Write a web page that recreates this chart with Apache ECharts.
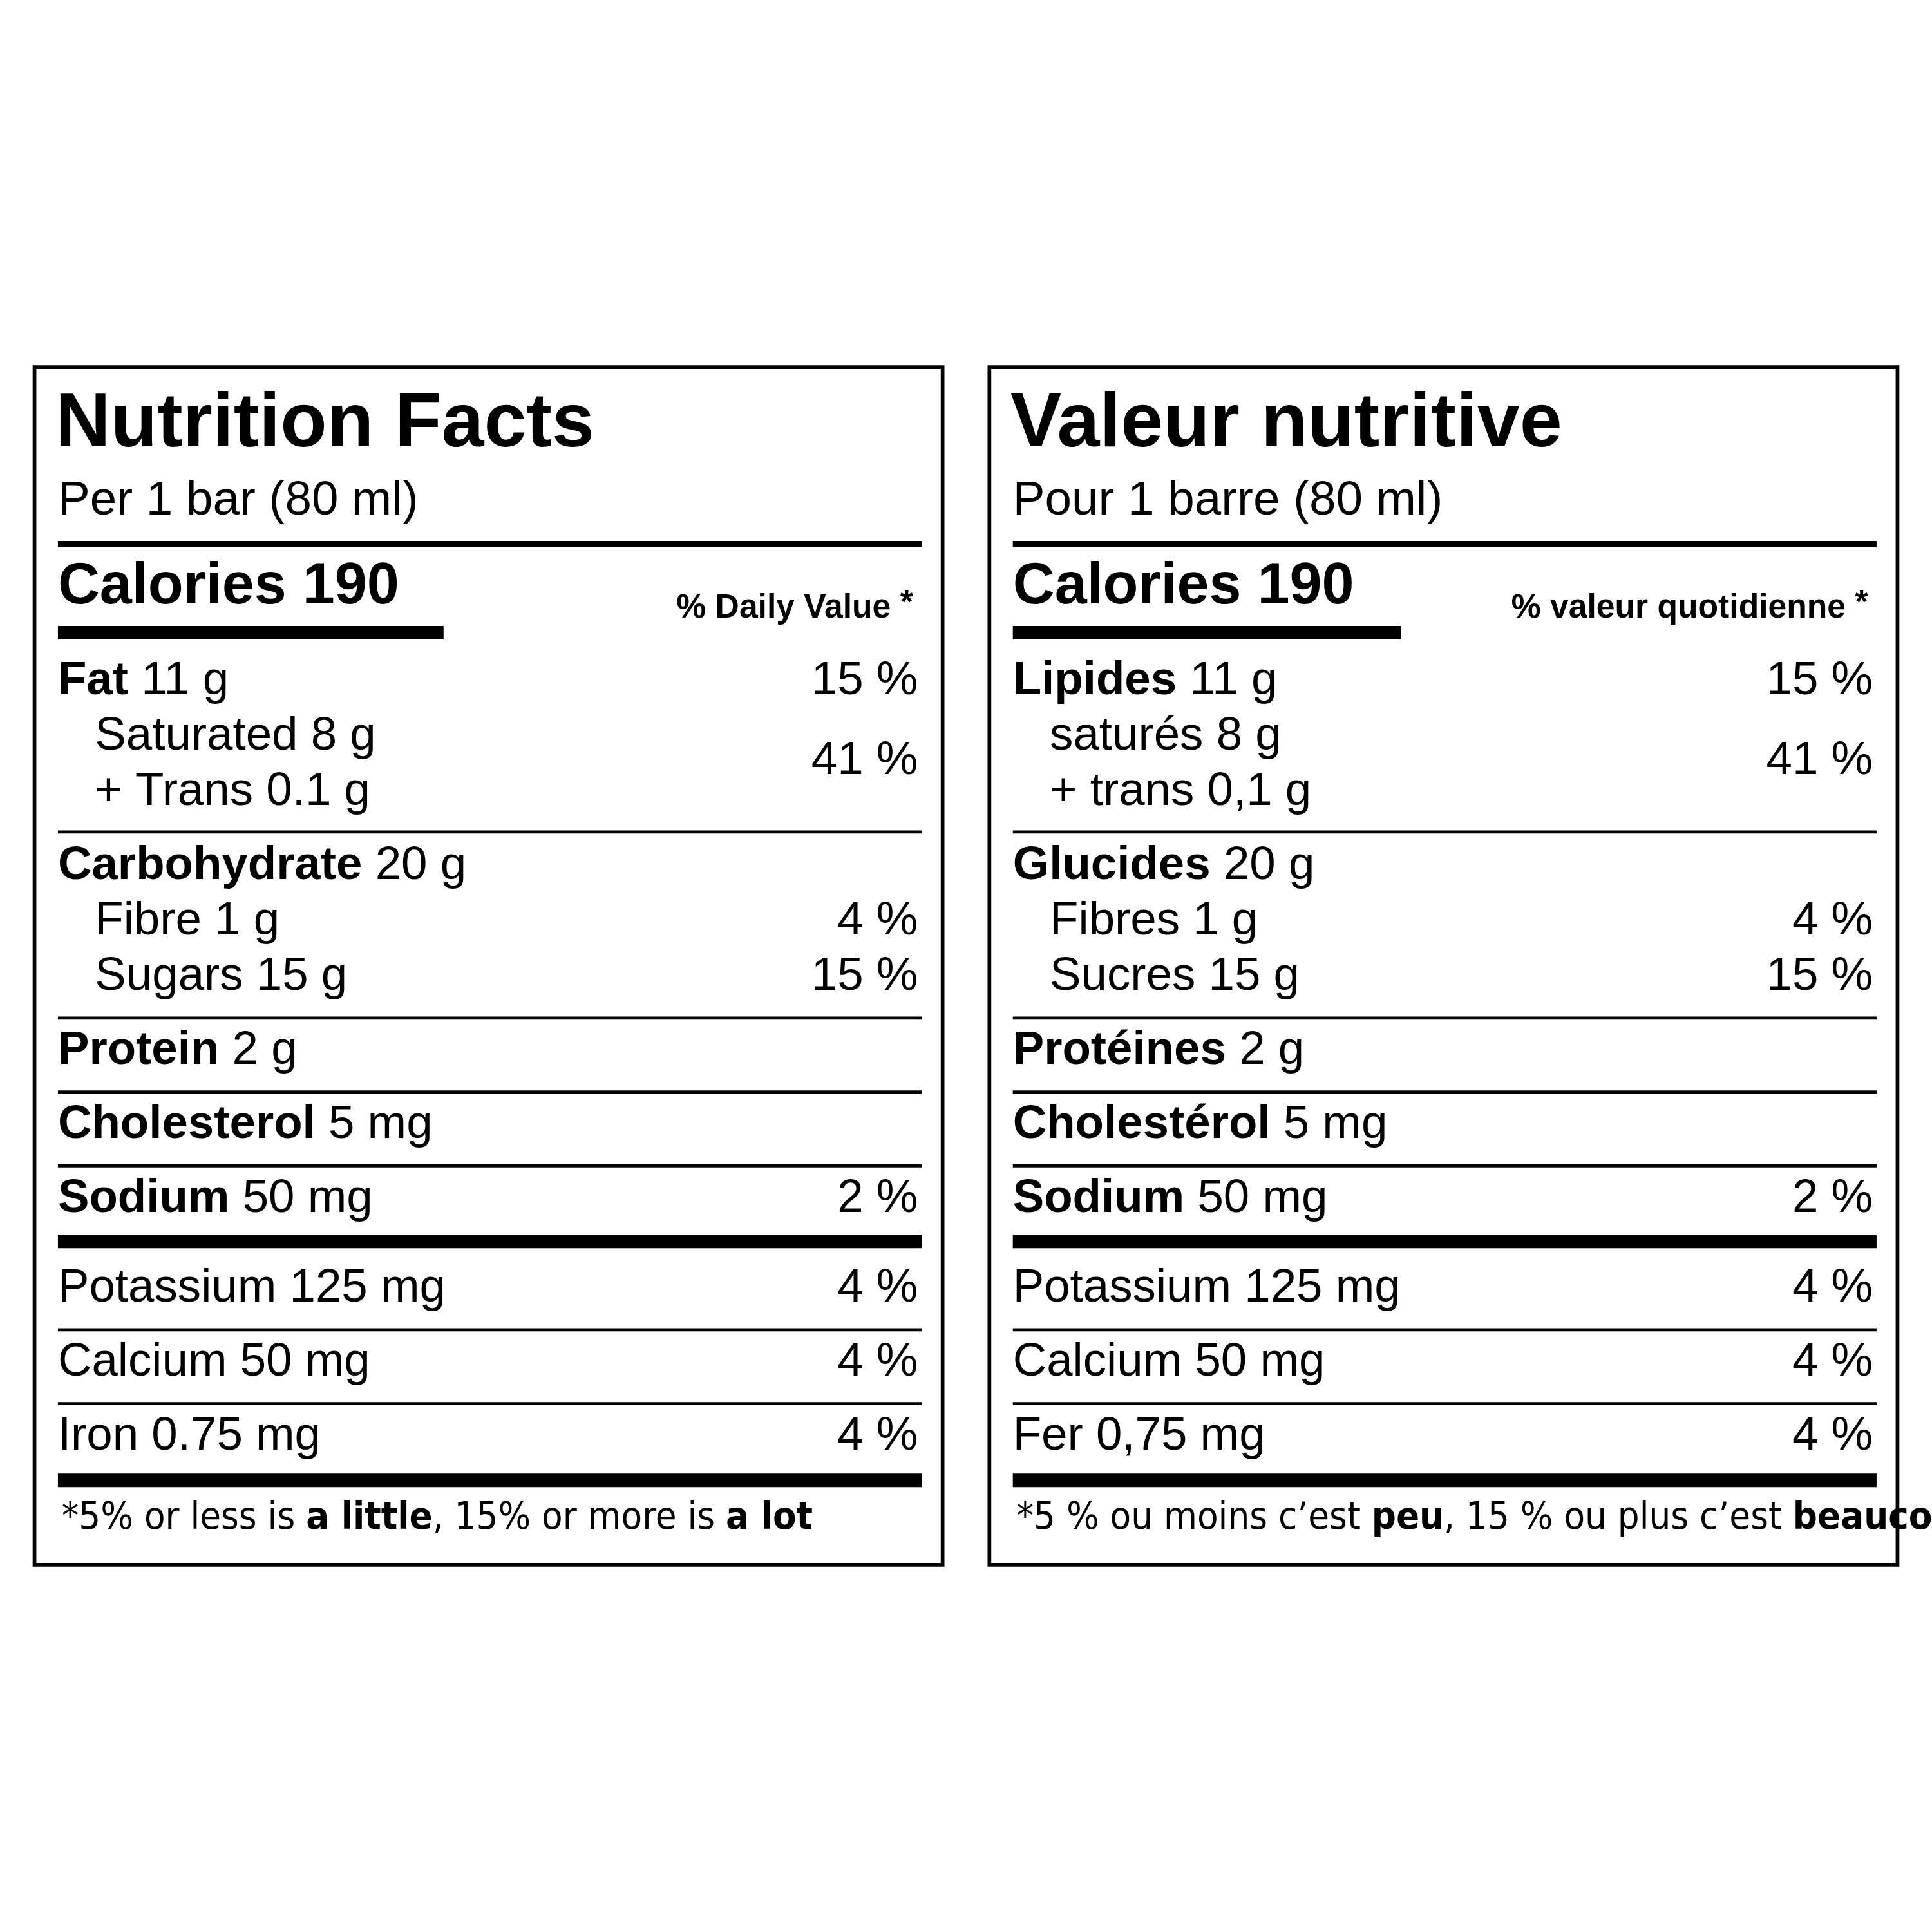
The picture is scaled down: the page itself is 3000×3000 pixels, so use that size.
<!DOCTYPE html>
<html><head><meta charset="utf-8">
<script src="https://cdn.jsdelivr.net/npm/echarts@6/dist/echarts.min.js"></script>
<style>html,body{margin:0;background:#fff}#c{width:3000px;height:3000px}</style>
</head><body><div id="c"></div>
<script>
// Data
const titles = ["Nutrition Facts", "Valeur nutritive"];
const servings = ["Per 1 bar (80 ml)", "Pour 1 barre (80 ml)"];
const calories = ["Calories 190", "Calories 190"];
const dvHeaders = ["% Daily Value", "% valeur quotidienne"];
// [bold part, regular part, indent(0/1), percent]
const rowsEN = [
  ["Fat", " 11 g", 0, "15 %"],
  ["", "Saturated 8 g", 1, ""],
  ["", "+ Trans 0.1 g", 1, ""],
  ["Carbohydrate", " 20 g", 0, ""],
  ["", "Fibre 1 g", 1, "4 %"],
  ["", "Sugars 15 g", 1, "15 %"],
  ["Protein", " 2 g", 0, ""],
  ["Cholesterol", " 5 mg", 0, ""],
  ["Sodium", " 50 mg", 0, "2 %"],
  ["", "Potassium 125 mg", 0, "4 %"],
  ["", "Calcium 50 mg", 0, "4 %"],
  ["", "Iron 0.75 mg", 0, "4 %"]
];
const rowsFR = [
  ["Lipides", " 11 g", 0, "15 %"],
  ["", "saturés 8 g", 1, ""],
  ["", "+ trans 0,1 g", 1, ""],
  ["Glucides", " 20 g", 0, ""],
  ["", "Fibres 1 g", 1, "4 %"],
  ["", "Sucres 15 g", 1, "15 %"],
  ["Protéines", " 2 g", 0, ""],
  ["Cholestérol", " 5 mg", 0, ""],
  ["Sodium", " 50 mg", 0, "2 %"],
  ["", "Potassium 125 mg", 0, "4 %"],
  ["", "Calcium 50 mg", 0, "4 %"],
  ["", "Fer 0,75 mg", 0, "4 %"]
];
const satPct = ["41 %", "41 %"];
const footnotes = [
  "{r|*5% or less is }{b|a little}{r|, 15% or more is }{b|a lot}",
  "{r|*5 % ou moins c\u2019est }{b|peu}{r|, 15 % ou plus c\u2019est }{b|beaucoup}"
];

const S = 3000/1568;
const FONT = "'Liberation Sans', Arial, sans-serif";
const NARROW = "'Liberation Sans Narrow', 'DejaVu Sans Condensed', sans-serif";
const rowY = [553, 598, 643, 703, 748, 793, 853, 913, 973, 1046, 1106, 1166];
const thin = [675, 826, 886, 946, 1079, 1139];
const g = [];
function rect(x, y, w, h) { g.push({type:'rect', shape:{x:x*S, y:y*S, width:w*S, height:h*S}, style:{fill:'#000'}}); }
function txt(x, y, text, size, weight, align, rich, family) {
  g.push({type:'text', x:x*S, y:y*S, style:{text, font: (weight||'normal')+' '+(size*S)+'px '+(family||FONT),
    fill:'#000', textAlign: align||'left', textVerticalAlign:'middle', rich}});
}
[0,1].forEach(p => {
  const o = p*775;
  const rows = p ? rowsFR : rowsEN;
  g.push({type:'rect', shape:{x:(28+o)*S, y:298*S, width:737*S, height:972*S}, style:{fill:'none', stroke:'#000', lineWidth:3*S}});
  const L = 47+o, R = 748+o, PR = 745+o;
  txt(L-2, 345, titles[p], 62, 'bold');
  txt(L, 407, servings[p], 39);
  rect(L, 439, R-L, 5);
  txt(L, 477, calories[p], 47, 'bold');
  rect(L, 508, 313+(p?2:0), 11);
  txt(PR-22, 494, dvHeaders[p], 27, 'bold', 'right');
  txt(PR-4, 490, '*', 27, 'bold', 'right');
  rows.forEach((r, i) => {
    const x = L + (r[2] ? 30 : 0);
    const rich = {b:{font:'bold '+(38*S)+'px '+FONT}, r:{font:(38*S)+'px '+FONT}};
    const t = (r[0] ? '{b|'+r[0]+'}' : '') + '{r|'+r[1]+'}';
    txt(x, rowY[i], t, 38, 'normal', 'left', rich);
    if (r[3]) txt(PR, rowY[i], r[3], 38, 'normal', 'right');
  });
  txt(PR, 618, satPct[p], 38, 'normal', 'right');
  thin.forEach(y => rect(L, y-1, R-L, 2.5));
  rect(L, 1002, R-L, 11);
  rect(L, 1196, R-L, 11);
  txt(L+3, 1233, footnotes[p], 31, 'normal', 'left',
    {r:{font:(31*S)+'px '+NARROW}, b:{font:'bold '+(31*S)+'px '+NARROW}});
});
const chart = echarts.init(document.getElementById('c'), null, {renderer:'canvas'});
chart.setOption({backgroundColor:'#fff', graphic: g});
</script></body></html>
